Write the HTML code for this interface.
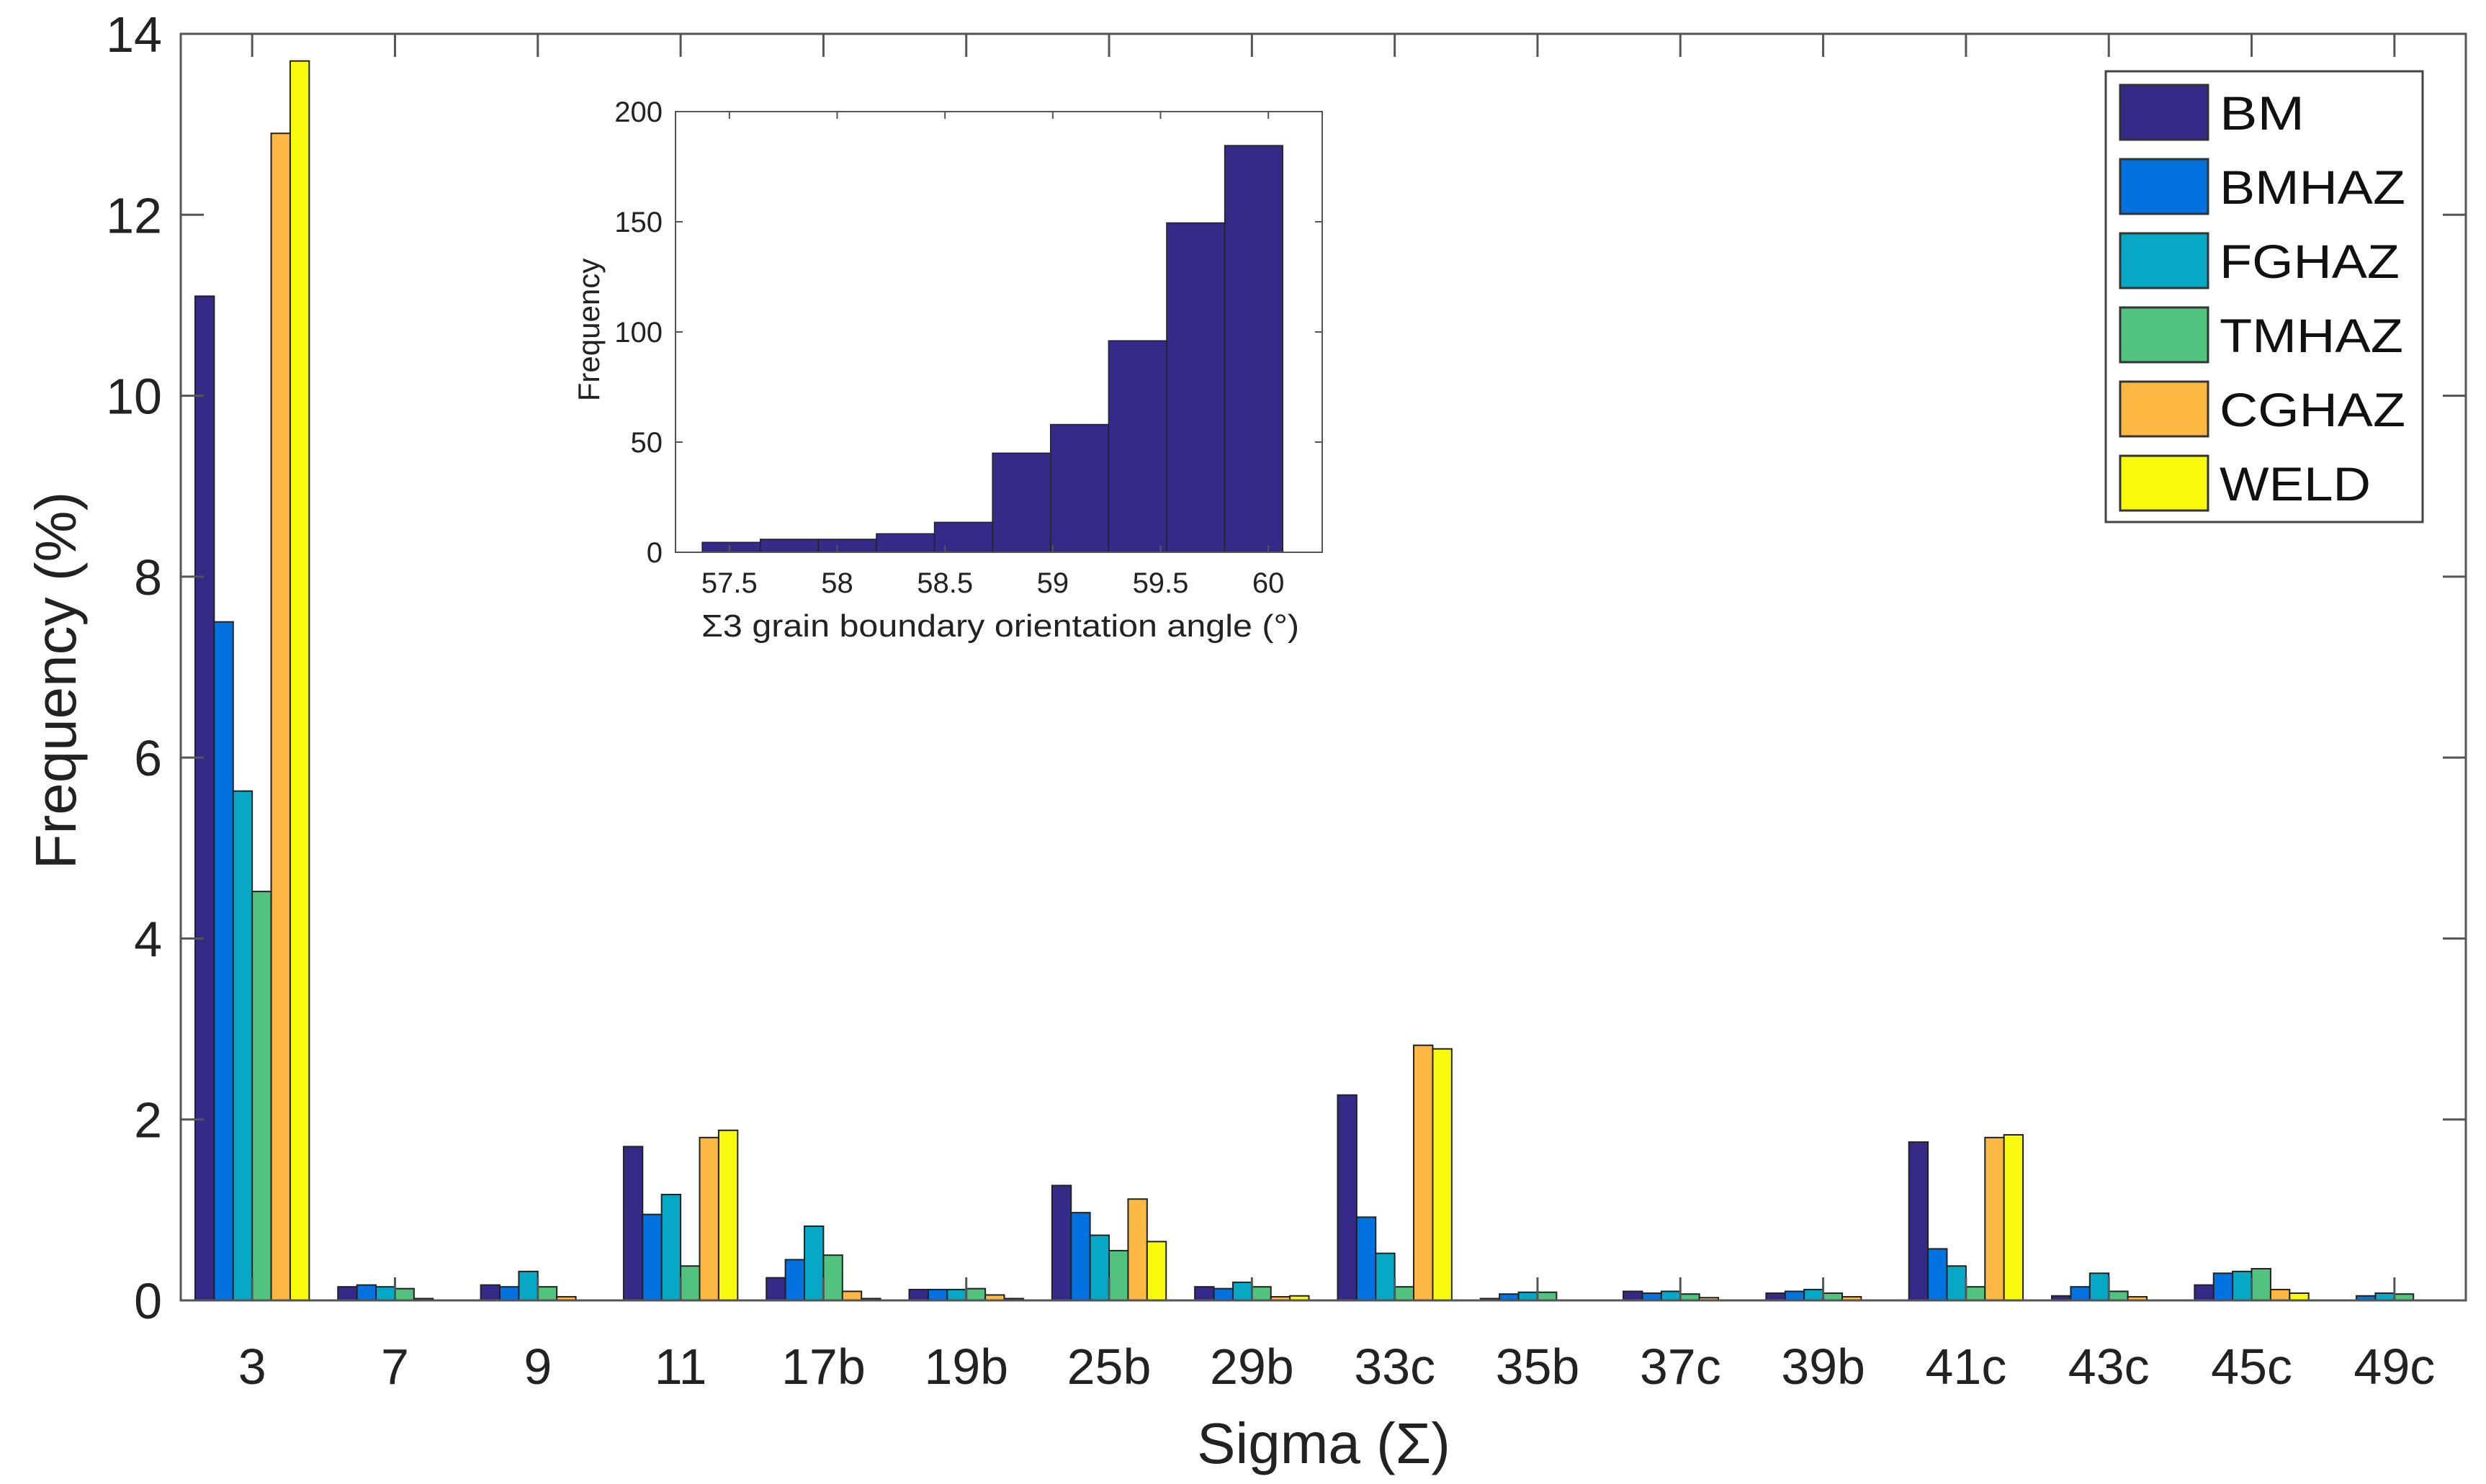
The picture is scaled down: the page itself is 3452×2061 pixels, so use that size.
<!DOCTYPE html>
<html><head><meta charset="utf-8"><style>
html,body{margin:0;padding:0;background:#fff;}
svg{display:block;font-family:"Liberation Sans",sans-serif;}
</style></head>
<body>
<svg id="chart" width="3452" height="2061" viewBox="0 0 3452 2061" xmlns="http://www.w3.org/2000/svg">
<rect x="0" y="0" width="3452" height="2061" fill="#fff"/>
<g id="main"></g>
<g id="inset"></g>
<g id="legend"></g>
</svg>
<script>
const categories = ["3","7","9","11","17b","19b","25b","29b","33c","35b","37c","39b","41c","43c","45c","49c"];
const seriesNames = ["BM","BMHAZ","FGHAZ","TMHAZ","CGHAZ","WELD"];
const bmValues    = [11.1,0.15,0.17,1.7,0.25,0.12,1.27,0.15,2.27,0.02,0.10,0.08,1.75,0.05,0.17,0.00];
const bmhazValues = [7.5,0.17,0.15,0.95,0.45,0.12,0.97,0.13,0.92,0.07,0.08,0.10,0.57,0.15,0.30,0.05];
const fghazValues = [5.63,0.15,0.32,1.17,0.82,0.12,0.72,0.20,0.52,0.09,0.10,0.12,0.38,0.30,0.32,0.08];
const tmhazValues = [4.52,0.13,0.15,0.38,0.50,0.13,0.55,0.15,0.15,0.09,0.07,0.08,0.15,0.10,0.35,0.07];
const cghazValues = [12.9,0.02,0.04,1.8,0.10,0.06,1.12,0.04,2.82,0.00,0.03,0.04,1.80,0.04,0.12,0.00];
const weldValues  = [13.7,0.00,0.00,1.88,0.02,0.02,0.65,0.05,2.78,0.00,0.00,0.00,1.83,0.00,0.08,0.00];
const seriesValues = [bmValues,bmhazValues,fghazValues,tmhazValues,cghazValues,weldValues];
const yTicks = [0,2,4,6,8,10,12,14];
const insetBinStart = 57.374;
const insetBinWidth = 0.2693;
const insetCounts = [4.5,5.9,5.9,8.4,13.6,45,58,96,149.5,184.6];
const insetXTicks = [57.5,58,58.5,59,59.5,60];
const insetYTicks = [0,50,100,150,200];

const colors = ["#352a87","#0272e1","#06a8c6","#52c27f","#fcb843","#f8fa0d"];
const NS = "http://www.w3.org/2000/svg";
function mk(tag, attrs, parent, text){
  const e = document.createElementNS(NS, tag);
  for (const k in attrs) e.setAttribute(k, attrs[k]);
  if (text !== undefined) e.textContent = text;
  parent.appendChild(e);
  return e;
}
// main axes
const L=251, R=3424, T=47, B=1806;
const yMax=14;
const yS = v => B - v/yMax*(B-T);
const catW = (R-L)/categories.length;
const xC = i => L + catW*(i+0.5);
const main = document.getElementById('main');
const barW = 26.4;
seriesValues.forEach((vals, s) => {
  vals.forEach((v, i) => {
    const x = xC(i) - 3*barW + s*barW;
    const r = mk('rect',{x:x,y:yS(v),width:barW,height:Math.max(0,B-yS(v)),fill:colors[s],stroke:'#222',"stroke-width":2},main);
    
    
  });
});
const frame = mk('rect',{x:L,y:T,width:R-L,height:B-T,fill:'none',stroke:'#555',"stroke-width":3},main);


yTicks.forEach(v => {
  mk('line',{x1:L,x2:L+32,y1:yS(v),y2:yS(v),stroke:'#555',"stroke-width":3},main);
  mk('line',{x1:R,x2:R-32,y1:yS(v),y2:yS(v),stroke:'#555',"stroke-width":3},main);
  const t = mk('text',{x:L-26,y:yS(v)+25,"text-anchor":"end","font-size":70,fill:'#222'},main,String(v));
  
  
});
categories.forEach((c,i) => {
  mk('line',{x1:xC(i),x2:xC(i),y1:B,y2:B-32,stroke:'#555',"stroke-width":3},main);
  mk('line',{x1:xC(i),x2:xC(i),y1:T,y2:T+32,stroke:'#555',"stroke-width":3},main);
  const t = mk('text',{x:xC(i),y:1922,"text-anchor":"middle","font-size":70,fill:'#222'},main,c);
  
  
});
const yt = mk('text',{x:0,y:0,"text-anchor":"middle","font-size":80,fill:'#222',transform:'translate(105,945) rotate(-90)'},main,'Frequency (%)');


const xt = mk('text',{x:1838,y:2032,"text-anchor":"middle","font-size":80,fill:'#222'},main,'Sigma (Σ)');



// inset
const iL=938, iR=1836, iT=155, iB=767;
const ixMin=57.25, ixMax=60.25, iyMax=200;
const ix = v => iL + (v-ixMin)/(ixMax-ixMin)*(iR-iL);
const iy = v => iB - v/iyMax*(iB-iT);
const inset = document.getElementById('inset');
mk('rect',{x:iL,y:iT,width:iR-iL,height:iB-iT,fill:'#fff',stroke:'none'},inset);
insetCounts.forEach((c,i) => {
  const x0 = ix(insetBinStart + i*insetBinWidth), x1 = ix(insetBinStart + (i+1)*insetBinWidth);
  const r = mk('rect',{x:x0,y:iy(c),width:x1-x0,height:iB-iy(c),fill:'#352a87',stroke:'#222',"stroke-width":1.5},inset);
  
  
});
const iframe = mk('rect',{x:iL,y:iT,width:iR-iL,height:iB-iT,fill:'none',stroke:'#555',"stroke-width":2},inset);


insetYTicks.forEach(v => {
  mk('line',{x1:iL,x2:iL+10,y1:iy(v),y2:iy(v),stroke:'#555',"stroke-width":2},inset);
  mk('line',{x1:iR,x2:iR-10,y1:iy(v),y2:iy(v),stroke:'#555',"stroke-width":2},inset);
  const t = mk('text',{x:iL-18,y:iy(v)+14,"text-anchor":"end","font-size":40,fill:'#222'},inset,String(v));
  
  
});
insetXTicks.forEach(v => {
  mk('line',{x1:ix(v),x2:ix(v),y1:iB,y2:iB-10,stroke:'#555',"stroke-width":2},inset);
  mk('line',{x1:ix(v),x2:ix(v),y1:iT,y2:iT+10,stroke:'#555',"stroke-width":2},inset);
  const t = mk('text',{x:ix(v),y:823,"text-anchor":"middle","font-size":40,fill:'#222'},inset,String(v));
  
  
});
const ixt = mk('text',{x:974,y:884,"font-size":44,fill:'#222',textLength:830,lengthAdjust:'spacingAndGlyphs'},inset,'Σ3 grain boundary orientation angle (°)');


const iyt = mk('text',{x:0,y:0,"text-anchor":"middle","font-size":42,fill:'#222',transform:'translate(832,458) rotate(-90)'},inset,'Frequency');



// legend
const leg = document.getElementById('legend');
const lbox = mk('rect',{x:2924,y:99,width:440,height:626,fill:'#fff',stroke:'#444',"stroke-width":3},leg);


seriesNames.forEach((n,s) => {
  const cy = 156 + s*103;
  const sw = mk('rect',{x:2944,y:cy-38,width:122,height:76,fill:colors[s],stroke:'#333',"stroke-width":3},leg);
  
  
  const tw = {BM:118,BMHAZ:258,FGHAZ:250,TMHAZ:255,CGHAZ:258,WELD:210}[n];
  const t = mk('text',{x:3082,y:cy+24,"font-size":66,fill:'#111',textLength:tw,lengthAdjust:'spacingAndGlyphs'},leg,n);
  
  
});
</script>
</body></html>
